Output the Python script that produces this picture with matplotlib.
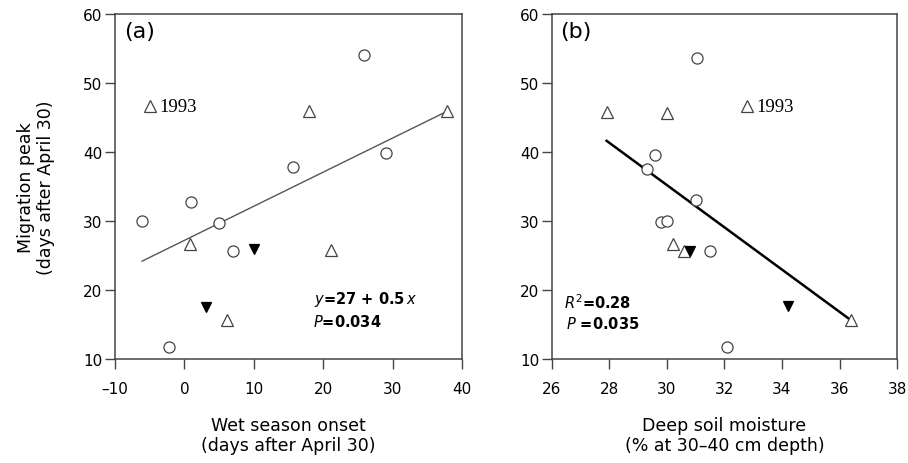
import matplotlib
matplotlib.use("Agg")
import matplotlib.pyplot as plt
import numpy as np

plt.rcParams['font.family'] = ['DejaVu Sans']

# panel (a): wet season onset vs migration peak
a_circ_x = [-6.1, 1.0, 5.0, 7.0, 15.7, 25.9, 29.0, -2.2]
a_circ_y = [30.0, 32.8, 29.7, 25.6, 37.8, 54.0, 39.9, 11.7]
a_tri_x = [-5.0, 0.8, 6.1, 18.0, 21.1, 37.9]
a_tri_y = [46.6, 26.7, 15.7, 46.0, 25.8, 45.9]
a_dn_x = [10.1, 3.1]
a_dn_y = [26.0, 17.5]
a_fit = (27.2, 0.494)   # intercept, slope

# panel (b): deep soil moisture vs migration peak
b_circ_x = [31.05, 29.6, 29.3, 31.0, 29.8, 30.0, 31.5, 32.1]
b_circ_y = [53.7, 39.6, 37.6, 33.0, 29.8, 30.0, 25.6, 11.8]
b_tri_x = [27.9, 30.0, 32.8, 30.2, 30.6, 36.4]
b_tri_y = [45.8, 45.7, 46.6, 26.6, 25.7, 15.7]
b_dn_x = [30.8, 34.2]
b_dn_y = [25.6, 17.7]
b_fit = (127.0, -3.06)

fig = plt.figure(figsize=(9.08, 4.64), dpi=100)
axa = fig.add_axes([0.1267, 0.2241, 0.382, 0.7435])
axb = fig.add_axes([0.6079, 0.2241, 0.380, 0.7435])

def draw(ax, cx, cy, tx, ty, dx, dy, fit, lcol, lw):
    allx = np.array(cx + tx + dx)
    xs = np.array([allx.min(), allx.max()])
    ax.plot(xs, fit[0] + fit[1] * xs, color=lcol, lw=lw, zorder=2)
    ax.plot(cx, cy, 'o', ms=8, mfc='white', mec='#444444', mew=0.9, ls='none', zorder=3)
    ax.plot(tx, ty, '^', ms=8, mfc='white', mec='#444444', mew=0.9, ls='none', zorder=3)
    ax.plot(dx, dy, 'v', ms=7.5, mfc='black', mec='black', mew=0.9, ls='none', zorder=3)
    ax.set_ylim(10, 60)
    ax.set_yticks([10, 20, 30, 40, 50, 60])
    for s in ax.spines.values():
        s.set_color('#444444')
        s.set_linewidth(1.1)
    ax.tick_params(direction='out', length=7, width=1, color='#444444',
                   labelsize=11)
    ax.tick_params(axis='x', pad=9)
    ax.tick_params(axis='y', pad=2)

draw(axa, a_circ_x, a_circ_y, a_tri_x, a_tri_y, a_dn_x, a_dn_y, a_fit, '#555555', 1.0)
axa.set_xlim(-10, 40)
axa.set_xticks([-10, 0, 10, 20, 30, 40])
axa.set_xticklabels(['\u201310', '0', '10', '20', '30', '40'])
axa.set_xlabel('Wet season onset\n(days after April 30)', fontsize=12.5, labelpad=14,
               linespacing=1.15)
axa.set_ylabel('Migration peak\n(days after April 30)', fontsize=12.5, labelpad=20,
               linespacing=1.15)
axa.text(0.025, 0.98, '(a)', transform=axa.transAxes, fontsize=16, va='top', ha='left')
axa.text(-3.6, 46.6, '1993', family='Liberation Serif', fontsize=13.5, va='center', ha='left')
axa.text(0.575, 0.174, r'$\mathit{y}$=27 + 0.5$\,\mathit{x}$', transform=axa.transAxes,
         fontsize=10.5, fontweight='bold', va='center', ha='left')
axa.text(0.572, 0.110, r'$\mathit{P}$=0.034', transform=axa.transAxes,
         fontsize=10.5, fontweight='bold', va='center', ha='left')

draw(axb, b_circ_x, b_circ_y, b_tri_x, b_tri_y, b_dn_x, b_dn_y, b_fit, 'black', 1.8)
axb.set_xlim(26, 38)
axb.set_xticks([26, 28, 30, 32, 34, 36, 38])
axb.set_xlabel('Deep soil moisture\n(% at 30\u201340 cm depth)', fontsize=12.5, labelpad=14,
               linespacing=1.15)
axb.text(0.025, 0.98, '(b)', transform=axb.transAxes, fontsize=16, va='top', ha='left')
axb.text(33.1, 46.6, '1993', family='Liberation Serif', fontsize=13.5, va='center', ha='left')
axb.text(0.035, 0.165, r'$\mathit{R}^2$=0.28', transform=axb.transAxes,
         fontsize=10.5, fontweight='bold', va='center', ha='left')
axb.text(0.04, 0.105, r'$\mathit{P}$ =0.035', transform=axb.transAxes,
         fontsize=10.5, fontweight='bold', va='center', ha='left')

fig.savefig('out.png', dpi=100)
